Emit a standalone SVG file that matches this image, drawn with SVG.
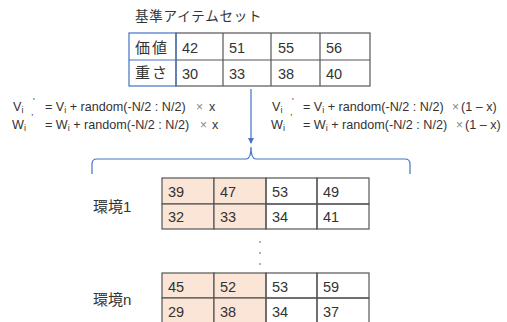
<svg xmlns="http://www.w3.org/2000/svg" width="507" height="322" viewBox="0 0 507 322">
<style>
text{font-family:"Liberation Sans","Noto Sans CJK JP",sans-serif;fill:#333}
.t{font-size:13.5px}
.n{font-size:14.5px}
.j{font-size:15px}
.f{font-size:12.6px}
.s{font-size:9px}
.m{font-size:12px;fill:#888}
.cell{fill:none;stroke:#555;stroke-width:1.2}
.pe{fill:#FBE5D6;stroke:#555;stroke-width:1.2}
.hd{fill:none;stroke:#4472C4;stroke-width:1.2}
.bl{fill:none;stroke:#4472C4;stroke-width:1.2}
</style>
<defs>
<marker id="ah" markerWidth="6" markerHeight="6" refX="5" refY="3" orient="auto" markerUnits="userSpaceOnUse">
<path d="M0,0 L6,3 L0,6 z" fill="#4472C4"/>
</marker>
</defs>
<g id="base">
<text class="t" x="135" y="21" letter-spacing="0.8">基準アイテムセット</text>
<rect class="cell" x="176" y="33" width="194" height="53"/>
<line class="cell" x1="176" y1="60" x2="370" y2="60"/>
<line class="cell" x1="223" y1="33" x2="223" y2="86"/>
<line class="cell" x1="271" y1="33" x2="271" y2="86"/>
<line class="cell" x1="320" y1="33" x2="320" y2="86"/>
<rect class="hd" x="129" y="33" width="47" height="53"/>
<line class="hd" x1="129" y1="60" x2="176" y2="60"/>
<text class="j" x="135" y="53" letter-spacing="2">価値</text>
<text class="j" x="135" y="78" letter-spacing="2">重さ</text>
<text class="n" x="182" y="53">42</text>
<text class="n" x="229" y="53">51</text>
<text class="n" x="278" y="53">55</text>
<text class="n" x="326" y="53">56</text>
<text class="n" x="182" y="79">30</text>
<text class="n" x="229" y="79">33</text>
<text class="n" x="278" y="79">38</text>
<text class="n" x="326" y="79">40</text>
</g>
<g id="formula-left">
<text class="f" x="13" y="111">V<tspan class="s" dy="2">i</tspan></text>
<text class="s" x="33" y="104">'</text>
<text class="s" x="31" y="115">,</text>
<text class="f" x="45" y="111">= V<tspan class="s" dy="2">i</tspan><tspan dy="-2"> + random(-N/2 : N/2)</tspan></text>
<text class="m" x="196" y="111">×</text>
<text class="f" x="209" y="111">x</text>
<text class="f" x="12" y="129">W<tspan class="s" dy="2">i</tspan></text>
<text class="f" x="45" y="129">= W<tspan class="s" dy="2">i</tspan><tspan dy="-2"> + random(-N/2 : N/2)</tspan></text>
<text class="m" x="200" y="129">×</text>
<text class="f" x="212" y="129">x</text>
</g>
<g id="formula-right">
<text class="f" x="272" y="111">V<tspan class="s" dy="2">i</tspan></text>
<text class="s" x="292" y="104">'</text>
<text class="s" x="290" y="115">,</text>
<text class="f" x="303" y="111">= V<tspan class="s" dy="2">i</tspan><tspan dy="-2"> + random(-N/2 : N/2)</tspan></text>
<text class="m" x="452" y="111">×</text>
<text class="f" x="461" y="111">(1 – x)</text>
<text class="f" x="271" y="129">W<tspan class="s" dy="2">i</tspan></text>
<text class="f" x="303" y="129">= W<tspan class="s" dy="2">i</tspan><tspan dy="-2"> + random(-N/2 : N/2)</tspan></text>
<text class="m" x="456" y="129">×</text>
<text class="f" x="465" y="129">(1 – x)</text>
</g>
<g id="connectors">
<line class="bl" x1="251" y1="89" x2="251" y2="143" marker-end="url(#ah)"/>
<path class="bl" d="M92,174 L92,164 Q92,159 97,159 L246,159 Q251,159 251,147 Q251,159 256,159 L405,159 Q410,159 410,164 L410,174"/>
</g>
<g id="env1">
<text class="j" x="93" y="212">環境1</text>
<rect class="pe" x="162" y="178" width="52" height="26"/>
<rect class="pe" x="214" y="178" width="52" height="26"/>
<rect class="pe" x="162" y="204" width="52" height="25"/>
<rect class="pe" x="214" y="204" width="52" height="25"/>
<rect class="cell" x="266" y="178" width="51" height="26"/>
<rect class="cell" x="317" y="178" width="52" height="26"/>
<rect class="cell" x="266" y="204" width="51" height="25"/>
<rect class="cell" x="317" y="204" width="52" height="25"/>
<text class="n" x="168" y="196.5">39</text>
<text class="n" x="220" y="196.5">47</text>
<text class="n" x="272" y="196.5">53</text>
<text class="n" x="323" y="196.5">49</text>
<text class="n" x="168" y="222">32</text>
<text class="n" x="220" y="222">33</text>
<text class="n" x="272" y="222">34</text>
<text class="n" x="323" y="222">41</text>
</g>
<g id="dots">
<circle cx="260" cy="242" r="0.8" fill="#555"/>
<circle cx="260" cy="253" r="0.8" fill="#555"/>
<circle cx="260" cy="264" r="0.8" fill="#555"/>
</g>
<g id="envn">
<text class="j" x="93" y="305">環境n</text>
<rect class="pe" x="162" y="273" width="52" height="25"/>
<rect class="pe" x="214" y="273" width="52" height="25"/>
<rect class="pe" x="162" y="298" width="52" height="26"/>
<rect class="pe" x="214" y="298" width="52" height="26"/>
<rect class="cell" x="266" y="273" width="51" height="25"/>
<rect class="cell" x="317" y="273" width="52" height="25"/>
<rect class="cell" x="266" y="298" width="51" height="26"/>
<rect class="cell" x="317" y="298" width="52" height="26"/>
<text class="n" x="168" y="292">45</text>
<text class="n" x="220" y="292">52</text>
<text class="n" x="272" y="292">53</text>
<text class="n" x="323" y="292">59</text>
<text class="n" x="168" y="317">29</text>
<text class="n" x="220" y="317">38</text>
<text class="n" x="272" y="317">34</text>
<text class="n" x="323" y="317">37</text>
</g>
</svg>
